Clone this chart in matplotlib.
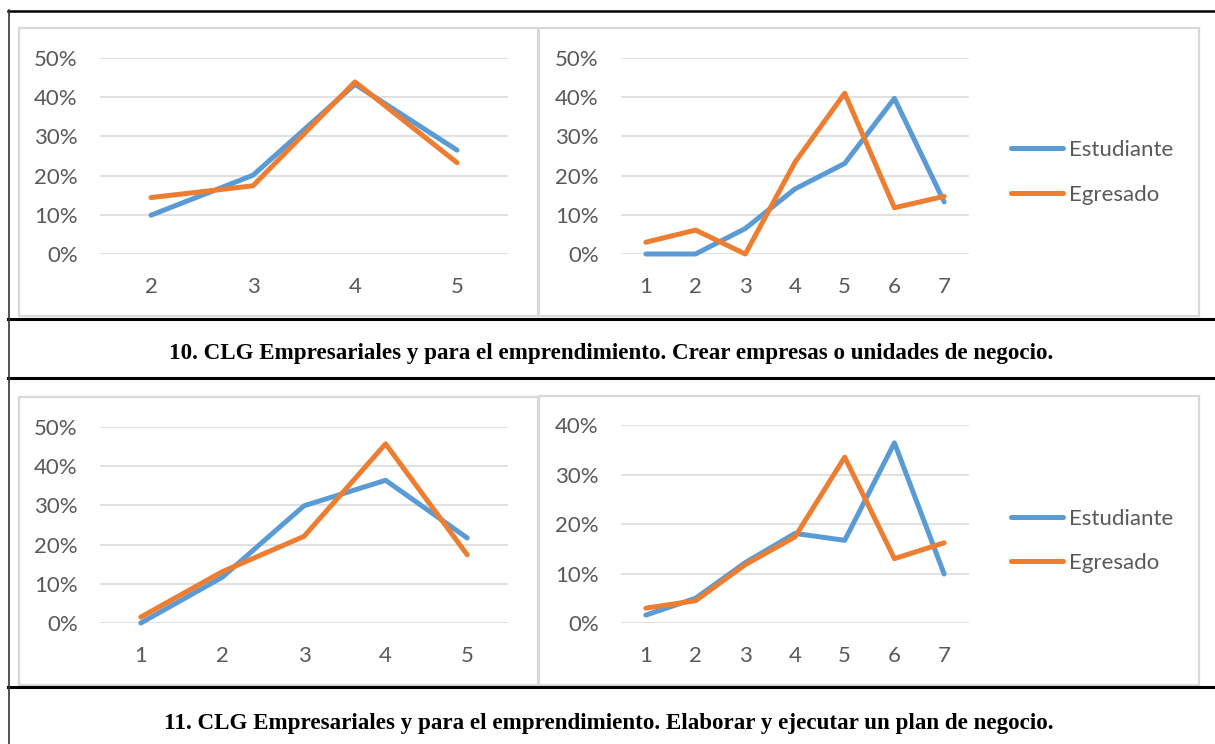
import matplotlib
matplotlib.use("Agg")
import matplotlib.pyplot as plt
from matplotlib.lines import Line2D
from matplotlib.patches import Rectangle
from matplotlib.ticker import FuncFormatter

# ---------------- data ----------------
series_names = ["Estudiante", "Egresado"]

cat_10a = [2, 3, 4, 5]
est_10a = [0.099, 0.201, 0.433, 0.265]
egr_10a = [0.144, 0.174, 0.439, 0.233]

cat_10b = [1, 2, 3, 4, 5, 6, 7]
est_10b = [0.0, 0.0, 0.065, 0.166, 0.231, 0.397, 0.133]
egr_10b = [0.030, 0.061, 0.0, 0.234, 0.410, 0.118, 0.147]

cat_11a = [1, 2, 3, 4, 5]
est_11a = [0.0, 0.117, 0.299, 0.364, 0.217]
egr_11a = [0.015, 0.131, 0.221, 0.457, 0.174]

cat_11b = [1, 2, 3, 4, 5, 6, 7]
est_11b = [0.016, 0.050, 0.122, 0.181, 0.167, 0.364, 0.099]
egr_11b = [0.030, 0.045, 0.118, 0.174, 0.335, 0.130, 0.162]

caption_10 = "10. CLG Empresariales y para el emprendimiento. Crear empresas o unidades de negocio."
caption_11 = "11. CLG Empresariales y para el emprendimiento. Elaborar y ejecutar un plan de negocio."

# ---------------- style ----------------
W, H = 1215, 744
BLUE = "#5B9BD5"
ORANGE = "#ED7D31"
GRID = "#D9D9D9"
TICK = "#595959"
FONT = "Lato"
TICKSIZE = 16
LEGSIZE = 16
LW = 3.6

fig = plt.figure(figsize=(W / 100, H / 100), dpi=100)
fig.patch.set_facecolor("white")


def fx(x):
    return x / W


def fy(y):
    return 1 - y / H


def ax_px(x0, y0, x1, y1):
    return fig.add_axes([fx(x0), fy(y1), (x1 - x0) / W, (y1 - y0) / H])


def box_px(x0, y0, x1, y1):
    fig.add_artist(Rectangle((fx(x0), fy(y1)), (x1 - x0) / W, (y1 - y0) / H,
                             transform=fig.transFigure, facecolor="white",
                             edgecolor=GRID, linewidth=1.6, zorder=0))


def hline(y, x0=8, x1=W, lw=1.8):
    fig.add_artist(Line2D([fx(x0), fx(x1)], [fy(y), fy(y)], transform=fig.transFigure,
                          color="black", linewidth=lw))


def make_chart(rect, cats, est, egr, ymax):
    ax = ax_px(*rect)
    xs = list(range(len(cats)))
    l1, = ax.plot(xs, est, color=BLUE, lw=LW, solid_capstyle="round",
                  solid_joinstyle="round", clip_on=False, zorder=3)
    l2, = ax.plot(xs, egr, color=ORANGE, lw=LW, solid_capstyle="round",
                  solid_joinstyle="round", clip_on=False, zorder=4)
    ax.set_xlim(-0.5, len(cats) - 0.5)
    ax.set_ylim(0, ymax)
    ax.set_xticks(xs)
    ax.set_xticklabels([str(c) for c in cats])
    ticks = [i / 10 for i in range(int(round(ymax * 10)) + 1)]
    ax.set_yticks(ticks)
    ax.yaxis.set_major_formatter(FuncFormatter(lambda v, p: f"{v*100:.0f}%"))
    for s in ax.spines.values():
        s.set_visible(False)
    ax.grid(axis="y", color=GRID, linewidth=1.1)
    ax.set_axisbelow(True)
    ax.tick_params(axis="both", length=0, labelcolor=TICK, labelsize=TICKSIZE)
    ax.tick_params(axis="y", pad=16)
    ax.tick_params(axis="x", pad=16.7)
    for lab in ax.get_xticklabels() + ax.get_yticklabels():
        lab.set_fontfamily(FONT)
    ax.patch.set_alpha(0)
    return ax, l1, l2


def legend_at(ax, handles, ycenter):
    fs_px = LEGSIZE * 100 / 72
    fig.legend(handles, series_names, loc="center left",
               bbox_to_anchor=(fx(1000), fy(ycenter)), bbox_transform=fig.transFigure,
               frameon=False, borderpad=0, handlelength=52 / fs_px,
               handletextpad=6 / fs_px, labelspacing=1.1,
               prop={"family": FONT, "size": LEGSIZE}, labelcolor=TICK)


# chart boxes
box_px(19, 28, 538, 316)
box_px(539, 28, 1199, 316)
box_px(19, 397, 538, 685)
box_px(539, 396, 1199, 685)

# charts
make_chart((100, 58, 508, 254), cat_10a, est_10a, egr_10a, 0.5)
ax_b, h1, h2 = make_chart((621, 58, 969, 254), cat_10b, est_10b, egr_10b, 0.5)
legend_at(ax_b, [h1, h2], 172.5)
make_chart((100, 427, 508, 623), cat_11a, est_11a, egr_11a, 0.5)
ax_d, h3, h4 = make_chart((621, 425, 969, 623), cat_11b, est_11b, egr_11b, 0.4)
legend_at(ax_d, [h3, h4], 541)

# table lines
hline(11)
hline(319, lw=2.2)
hline(378, lw=2.2)
hline(687, lw=2.2)
fig.add_artist(Line2D([fx(8.5), fx(8.5)], [fy(10), fy(H)], transform=fig.transFigure,
                      color="#333333", linewidth=1.2))

# captions
t1 = fig.text(fx(611), fy(354), caption_10, ha="center", va="center",
              family="Liberation Serif", fontweight="bold", fontsize=14)
t2 = fig.text(fx(609), fy(723), caption_11, ha="center", va="center",
              family="Liberation Serif", fontweight="bold", fontsize=14)
r = fig.canvas.get_renderer()
w = t1.get_window_extent(r).width
fs = 14 * 885 / w
t1.set_fontsize(fs)
t2.set_fontsize(fs)

fig.savefig("out.png", dpi=100, facecolor="white")
